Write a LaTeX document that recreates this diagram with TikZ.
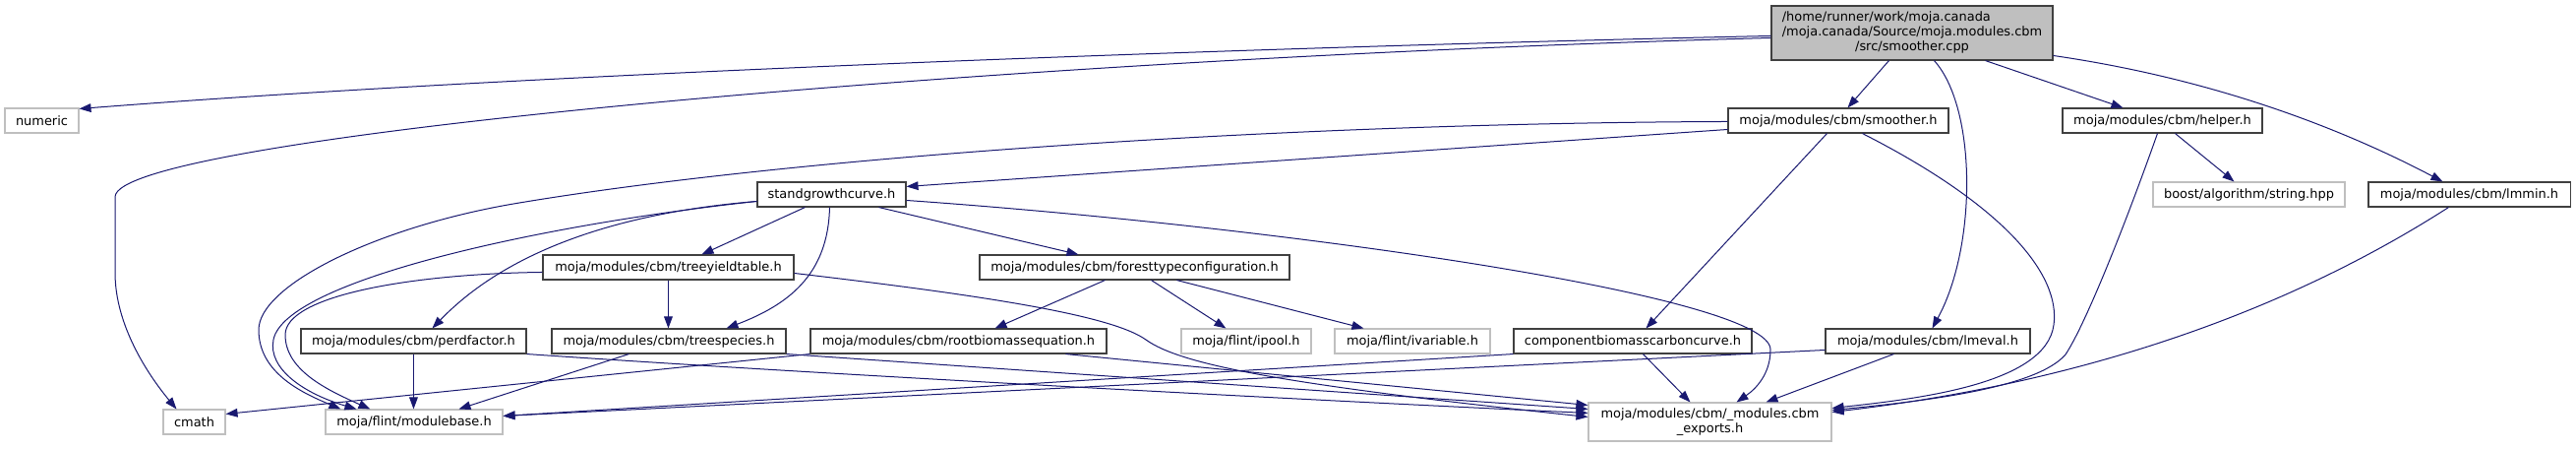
\documentclass[tikz,border=0pt]{standalone}
\usepackage{fontspec}
\setmainfont{DejaVu Sans}
\usetikzlibrary{arrows.meta,calc}
\definecolor{edgec}{HTML}{191970}
\definecolor{grayb}{HTML}{BFBFBF}
\definecolor{darkb}{HTML}{404040}
\newdimen\pxu \pxu=0.75pt
\begin{document}
\begin{tikzpicture}[x=0.75pt,y=-0.75pt,
  box/.style={draw, inner sep=0pt, minimum height=25\pxu, font=\fontsize{9.7}{11}\selectfont, line width=0.8pt},
  doc/.style={box, draw=darkb, fill=white},
  nodoc/.style={box, draw=grayb, fill=white},
  edge/.style={draw=edgec, line width=0.75pt, -{Triangle[length=9pt,width=6.5pt]}}]
\fill[white] (0,0) rectangle (2619,455);
\useasboundingbox (0,0) rectangle (2619,455);
% nodes
\node[box, draw=darkb, fill=grayb, minimum width=286\pxu, minimum height=55\pxu] (main) at (1944,33.5)
  {\begin{tabular}{@{}l@{}}/home/runner/work/moja.canada\\/moja.canada/Source/moja.modules.cbm\\\multicolumn{1}{@{}c@{}}{/src/smoother.cpp}\end{tabular}};
\node[nodoc, minimum width=75\pxu] (num) at (42.5,122.5) {numeric};
\node[doc, minimum width=224\pxu] (sm) at (1869,122.5) {moja/modules/cbm/smoother.h};
\node[doc, minimum width=203\pxu] (hp) at (2198.5,122.5) {moja/modules/cbm/helper.h};
\node[doc, minimum width=151\pxu] (sgc) at (845.5,197.5) {standgrowthcurve.h};
\node[nodoc, minimum width=195\pxu] (bst) at (2286.5,197.5) {boost/algorithm/string.hpp};
\node[doc, minimum width=205\pxu] (lmm) at (2510.5,197.5) {moja/modules/cbm/lmmin.h};
\node[doc, minimum width=255\pxu] (tyt) at (679.5,271.5) {moja/modules/cbm/treeyieldtable.h};
\node[doc, minimum width=315\pxu] (ftc) at (1153.5,271.5) {moja/modules/cbm/foresttypeconfiguration.h};
\node[doc, minimum width=229\pxu] (prd) at (420.5,346.5) {moja/modules/cbm/perdfactor.h};
\node[doc, minimum width=238\pxu] (tsp) at (680,346.5) {moja/modules/cbm/treespecies.h};
\node[doc, minimum width=301\pxu] (rbe) at (974.5,346.5) {moja/modules/cbm/rootbiomassequation.h};
\node[nodoc, minimum width=132\pxu] (ipl) at (1267,346.5) {moja/flint/ipool.h};
\node[nodoc, minimum width=158\pxu] (ivr) at (1436,346.5) {moja/flint/ivariable.h};
\node[doc, minimum width=242\pxu] (cbc) at (1660,346.5) {componentbiomasscarboncurve.h};
\node[doc, minimum width=208\pxu] (lme) at (1960,346.5) {moja/modules/cbm/lmeval.h};
\node[nodoc, minimum width=63\pxu] (cmt) at (197.5,428.5) {cmath};
\node[nodoc, minimum width=180\pxu] (mb) at (421,428.5) {moja/flint/modulebase.h};
\node[nodoc, minimum width=247\pxu, minimum height=39\pxu, align=center] (ex) at (1738.5,428.5)
  {moja/modules/cbm/\_modules.cbm\\\_exports.h};
% edges from main
\draw[edge] ($(main.north west)+(0,31)$) .. controls (1400,45) and (600,70) .. ($(num.north east)+(0,1)$);
\draw[edge] ($(main.north west)+(0,33)$) .. controls (1000,60) and (117,140) .. (117,200) -- (117,277)
  .. controls (117,330) and (150,380) .. ($(cmt.north west)+(14,0)$);
\draw[edge] ($(main.south west)+(120,0)$) -- ($(sm.north west)+(122,0)$);
\draw[edge] ($(main.south west)+(166,0)$) .. controls (2010,110) and (2010,250) .. ($(lme.north west)+(109,0)$);
\draw[edge] ($(main.south west)+(218,0)$) -- ($(hp.north west)+(62,0)$);
\draw[edge] ($(main.north east)+(0,51)$) .. controls (2250,80) and (2380,130) .. ($(lmm.north west)+(76,0)$);
% smoother.h
\draw[edge] ($(sm.north west)+(0,22)$) -- ($(sgc.north east)+(0,5)$);
\draw[edge] ($(sm.north west)+(0,14)$) .. controls (1300,125) and (800,160) .. (522,207)
  .. controls (382,231) and (263,290) .. (263,335) .. controls (263,380) and (310,400) .. ($(mb.north west)+(16,0)$);
\draw[edge] ($(sm.south west)+(101,0)$) -- ($(cbc.north west)+(135,0)$);
\draw[edge] ($(sm.south west)+(137,0)$) .. controls (2040,210) and (2095,280) .. (2088,330)
  .. controls (2080,390) and (1950,405) .. ($(ex.north east)+(0,6)$);
% helper.h
\draw[edge] ($(hp.south west)+(115,0)$) -- ($(bst.north west)+(83,0)$);
\draw[edge] ($(hp.south west)+(97,0)$) .. controls (2160,230) and (2120,330) .. (2100,360)
  .. controls (2070,395) and (1950,408) .. ($(ex.north east)+(0,8)$);
% lmmin.h
\draw[edge] ($(lmm.south west)+(82,0)$) .. controls (2350,300) and (2150,385) .. ($(ex.north east)+(0,10)$);
% lmeval.h
\draw[edge] ($(lme.south west)+(70,0)$) -- ($(ex.north west)+(181,0)$);
\draw[edge] ($(lme.north west)+(0,22)$) -- ($(mb.north east)+(0,7)$);
% componentbiomasscarboncurve.h
\draw[edge] (cbc.south west) -- ($(mb.north east)+(0,7)$);
\draw[edge] ($(cbc.south west)+(132,0)$) -- ($(ex.north west)+(104,0)$);
% standgrowthcurve.h
\draw[edge] ($(sgc.north east)+(0,19)$) .. controls (1300,230) and (1800,300) .. (1800,355)
  .. controls (1800,380) and (1785,395) .. ($(ex.north west)+(151,0)$);
\draw[edge] ($(sgc.south west)+(49,0)$) -- ($(tyt.north west)+(162,0)$);
\draw[edge] ($(sgc.south west)+(74,0)$) .. controls (842,280) and (800,310) .. ($(tsp.north west)+(178,0)$);
\draw[edge] ($(sgc.south west)+(124,0)$) -- ($(ftc.north west)+(101,0)$);
\draw[edge] ($(sgc.north west)+(0,20)$) .. controls (640,215) and (520,250) .. ($(prd.north west)+(134,0)$);
\draw[edge] ($(sgc.north west)+(0,20)$) .. controls (550,228) and (290,285) .. (278,345)
  .. controls (272,375) and (310,400) .. ($(mb.north west)+(32,0)$);
% treeyieldtable.h
\draw[edge] ($(tyt.south west)+(128,0)$) -- ($(tsp.north west)+(119,0)$);
\draw[edge] ($(tyt.north west)+(0,18)$) .. controls (420,278) and (290,300) .. (290,340)
  .. controls (290,375) and (330,395) .. ($(mb.north west)+(46,0)$);
\draw[edge] ($(tyt.north east)+(0,19)$) .. controls (1000,300) and (1130,320) .. (1165,345)
  .. controls (1200,370) and (1300,390) .. ($(ex.north west)+(0,15)$);
% treespecies.h
\draw[edge] ($(tsp.south west)+(79,0)$) -- ($(mb.north west)+(136,0)$);
\draw[edge] (tsp.south east) -- ($(ex.north west)+(0,7)$);
% perdfactor.h
\draw[edge] ($(prd.south west)+(115,0)$) -- ($(mb.north west)+(90,0)$);
\draw[edge] (prd.south east) .. controls (800,378) and (1300,405) .. ($(ex.north west)+(0,11)$);
% rootbiomassequation.h
\draw[edge] (rbe.south west) -- ($(cmt.north east)+(0,5)$);
\draw[edge] ($(rbe.south west)+(260,0)$) -- ($(ex.north west)+(0,3)$);
% foresttypeconfiguration.h
\draw[edge] ($(ftc.south west)+(128,0)$) -- ($(rbe.north west)+(188,0)$);
\draw[edge] ($(ftc.south west)+(175,0)$) -- ($(ipl.north west)+(46,0)$);
\draw[edge] ($(ftc.south west)+(201,0)$) -- ($(ivr.north west)+(30,0)$);
\end{tikzpicture}
\end{document}
